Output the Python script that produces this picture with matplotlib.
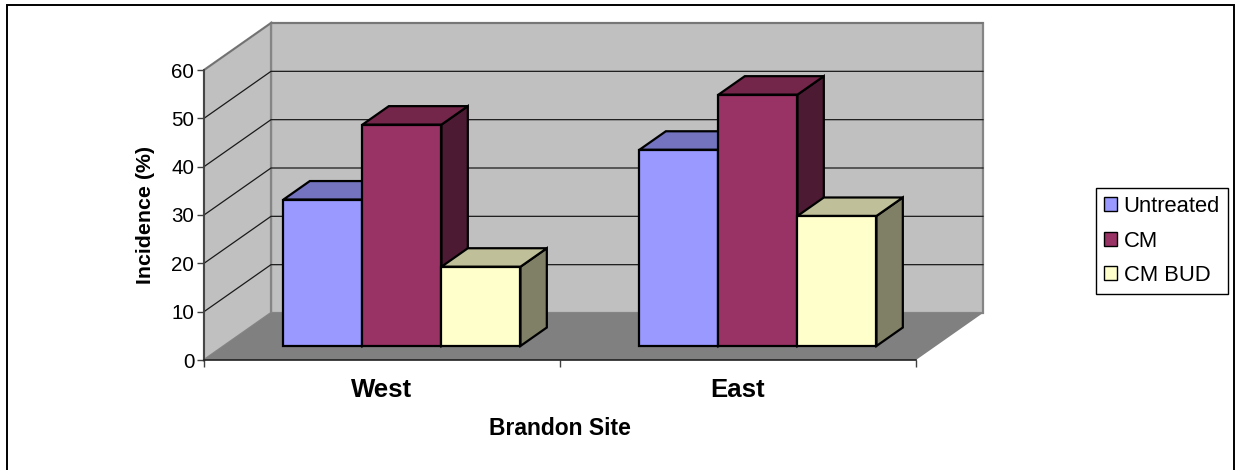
import matplotlib
matplotlib.use("Agg")
import matplotlib.pyplot as plt
from matplotlib.lines import Line2D
from matplotlib.patches import Patch, Polygon

plt.rcParams["font.family"] = ["Liberation Sans", "DejaVu Sans"]

# Incidence by site and treatment
sites = ["West", "East"]
treatments = ["Untreated", "CM", "CM BUD"]
untreated = [30.3, 40.6]
cm = [45.8, 52.0]
cm_bud = [16.4, 26.9]
y_ticks = [0, 10, 20, 30, 40, 50, 60]

front_colors = ["#9999FF", "#993366", "#FFFFCC"]
top_colors = ["#7373BF", "#732649", "#BFBF99"]
side_colors = ["#5C5C99", "#4D1A33", "#808066"]

W, H = 1236, 470
fig = plt.figure(figsize=(W / 100, H / 100), dpi=100)
fig.patch.set_facecolor("white")
ax = fig.add_axes([204 / W, 1 - 360 / H, 712 / W, 290 / H])
ax.set_xlim(0, 2)
ax.set_ylim(0, 60)
ax.patch.set_visible(False)

# Oblique projection: depth 1 is the back wall of the plot box
DX = 67 / 356
DY = 47 / (290 / 60)


def proj(x, v, d=0.0):
    return (x + d * DX, v + d * DY)


def face(points, color, **kw):
    ax.add_patch(Polygon([proj(*p) for p in points], closed=True, facecolor=color,
                         clip_on=False, **kw))


# Walls and floor
wall = dict(edgecolor="#858585", linewidth=1.6, joinstyle="miter", zorder=1)
face([(0, 0, 1), (2, 0, 1), (2, 60, 1), (0, 60, 1)], "#C0C0C0", **wall)
face([(0, 0, 0), (0, 0, 1), (0, 60, 1), (0, 60, 0)], "#C0C0C0", **wall)
face([(0, 0, 0), (2, 0, 0), (2, 0, 1), (0, 0, 1)], "#808080",
     edgecolor="none", zorder=1.5)

# Gridlines run along the side wall and across the back wall
for v in y_ticks[1:]:
    px = [proj(0, v, 0), proj(0, v, 1), proj(2, v, 1)]
    ax.plot(*zip(*px), color="#1a1a1a" if v < 60 else "#707070", lw=0.9,
            clip_on=False, zorder=2)

# Clustered bars
BAR_W = 79.0 / 356
D0, D1 = 14 / 47, 32.5 / 47
series = [untreated, cm, cm_bud]
order = 3.0
for i_site in range(len(sites)):
    left = i_site + 0.5 - 1.5 * BAR_W
    for i_s, values in enumerate(series):
        v = values[i_site]
        a, b = left + i_s * BAR_W, left + (i_s + 1) * BAR_W
        style = dict(edgecolor="black", linewidth=1.6, joinstyle="miter", zorder=order)
        face([(b, 0, D0), (b, 0, D1), (b, v, D1), (b, v, D0)], side_colors[i_s], **style)
        face([(a, v, D0), (b, v, D0), (b, v, D1), (a, v, D1)], top_colors[i_s], **style)
        face([(a, 0, D0), (b, 0, D0), (b, v, D0), (a, v, D0)], front_colors[i_s], **style)
        order += 0.1

# Axes, ticks and labels
for name in ("top", "right"):
    ax.spines[name].set_visible(False)
ax.spines["left"].set(color="#404040", linewidth=1.3, zorder=6)
ax.spines["bottom"].set(color="#202020", linewidth=1.2, zorder=6)
ax.set_yticks(y_ticks)
ax.tick_params(axis="y", labelsize=14.8, length=5, width=1, color="#404040", pad=2)
ax.set_xticks([0, 1, 2])
ax.set_xticklabels([])
ax.tick_params(axis="x", which="major", length=5, width=1, color="#404040")
ax.set_xticks([0.5, 1.5], minor=True)
ax.set_xticklabels(sites, minor=True, fontsize=18.5, fontweight="bold")
ax.tick_params(axis="x", which="minor", length=0, pad=13)
ax.set_xlabel("Brandon Site", fontsize=16.5, fontweight="bold", labelpad=11)
ax.set_ylabel("Incidence (%)", fontsize=15.4, fontweight="bold", labelpad=12)

# Legend
handles = [Patch(facecolor=c, edgecolor="black", linewidth=1.0) for c in front_colors]
leg = fig.legend(handles, treatments, loc="upper left",
                 bbox_to_anchor=(1096 / W, 1 - 188 / H), bbox_transform=fig.transFigure,
                 fontsize=15.8, frameon=True, fancybox=False, framealpha=1,
                 edgecolor="black", borderaxespad=0, borderpad=0.36,
                 handlelength=0.6, handleheight=0.6, handletextpad=0.3,
                 labelspacing=0.62)
leg.get_frame().set_linewidth(1.0)

# Outer chart border, open along the bottom edge
fig.add_artist(Line2D([7 / W, 7 / W, 1234 / W, 1234 / W],
                      [0, 1 - 5 / H, 1 - 5 / H, 0],
                      transform=fig.transFigure, color="black", lw=1.4,
                      solid_joinstyle="miter"))

fig.savefig("out.png", dpi=100)
